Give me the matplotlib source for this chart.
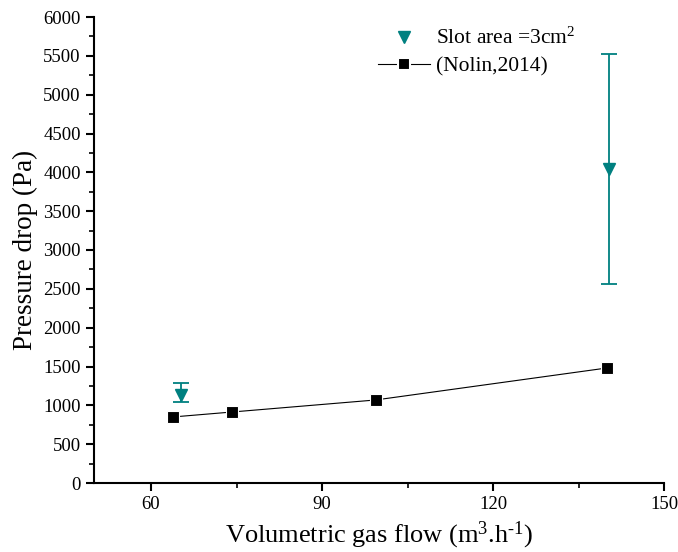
import matplotlib
matplotlib.use("Agg")
import matplotlib.pyplot as plt
from matplotlib.ticker import MultipleLocator
from matplotlib.lines import Line2D

# Data
nolin_x = [63.8, 74.2, 99.4, 140.0]
nolin_y = [850, 914, 1069, 1481]

slot_x = [65.2, 140.4]
slot_y = [1133, 4043]
slot_err_low = [1043, 2562]
slot_err_high = [1288, 5523]

plt.rcParams['font.family'] = ['Liberation Serif', 'DejaVu Serif']
plt.rcParams['mathtext.fontset'] = 'custom'
plt.rcParams['mathtext.rm'] = 'Liberation Serif'
plt.rcParams['mathtext.it'] = 'Liberation Serif'

fig = plt.figure(figsize=(6.78, 5.52), dpi=100)
ax = fig.add_axes([94/678, 1-483/552, (664-94)/678, (483-17)/552])

teal = '#008080'
yerr = [[y - lo for y, lo in zip(slot_y, slot_err_low)],
        [hi - y for y, hi in zip(slot_y, slot_err_high)]]
ax.errorbar(slot_x, slot_y, yerr=yerr, fmt='v', color=teal, markersize=9,
            ecolor=teal, elinewidth=1.3, capsize=6, capthick=1.3, zorder=3)
ax.plot(nolin_x, nolin_y, '-s', color='black', linewidth=0.8, markersize=8.5,
        markeredgecolor='white', markeredgewidth=0.8, zorder=4)

ax.set_xlim(50, 150)
ax.set_ylim(0, 6000)
ax.set_xticks([60, 90, 120, 150])
ax.xaxis.set_minor_locator(MultipleLocator(15))
ax.yaxis.set_major_locator(MultipleLocator(500))
ax.yaxis.set_minor_locator(MultipleLocator(250))

for s in ['top', 'right']:
    ax.spines[s].set_visible(False)
for s in ['left', 'bottom']:
    ax.spines[s].set_linewidth(1.5)

ax.tick_params(which='major', direction='out', length=6, width=1.5, labelsize=13.5)
ax.tick_params(which='minor', direction='out', length=3.5, width=1.2)

ax.set_xlabel('Volumetric gas flow (m$^3$.h$^{\u2010 1}$)', fontsize=19, labelpad=5)
ax.set_ylabel('Pressure drop (Pa)', fontsize=19.5, labelpad=4)

handles = [
    Line2D([], [], linestyle='none', marker='v', color=teal, markersize=9),
    Line2D([], [], linestyle='-', marker='s', color='black', linewidth=0.8,
           markersize=9, markeredgecolor='white', markeredgewidth=1.5),
]
labels = ['Slot area =3cm$^2$', '(Nolin,2014)']
ax.legend(handles, labels, loc='upper left', bbox_to_anchor=((378-94)/570, (483-28)/466),
          frameon=False, fontsize=15.5, handlelength=2.42, handletextpad=0.28,
          labelspacing=0.35, borderpad=0, borderaxespad=0)

fig.savefig('out.png', dpi=100)
